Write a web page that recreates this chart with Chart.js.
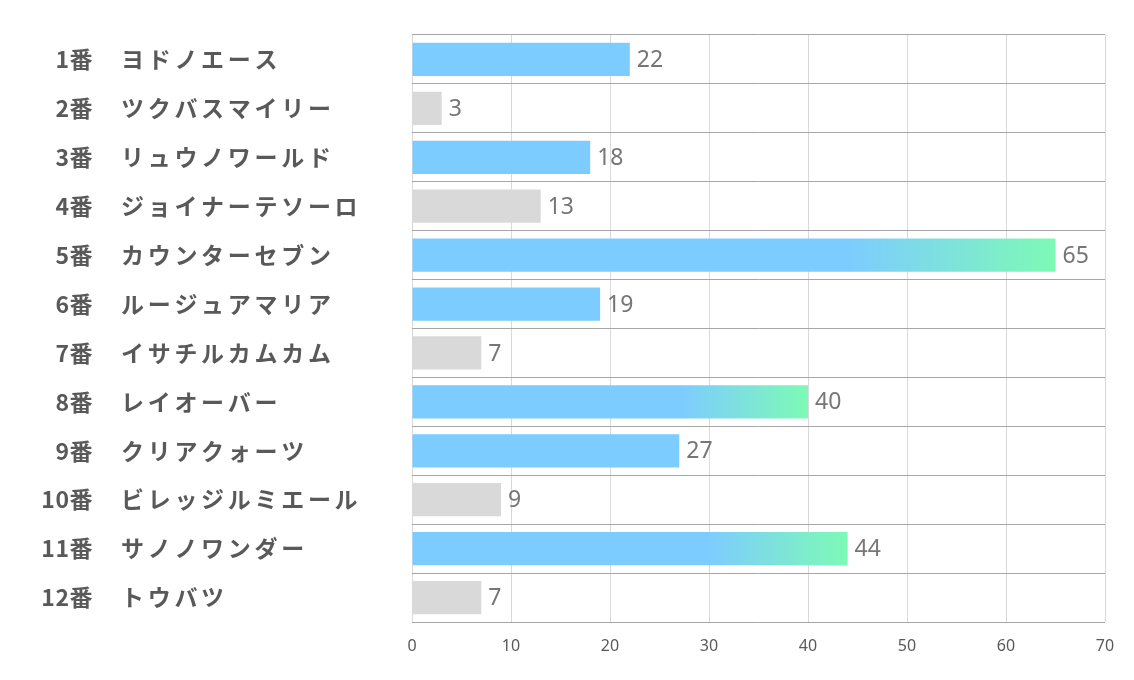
<!DOCTYPE html>
<html lang="ja">
<head>
<meta charset="utf-8">
<title>人気順</title>
<script src="https://cdn.jsdelivr.net/npm/chart.js@4"></script>
<style>
  html, body { margin: 0; padding: 0; background: #fff; }
  canvas { display: block; }
</style>
</head>
<body>
<canvas id="chart" width="1134" height="680"></canvas>
<script>
const numbers = ['1番', '2番', '3番', '4番', '5番', '6番', '7番', '8番', '9番', '10番', '11番', '12番'];
const horses = ['ヨドノエース', 'ツクバスマイリー', 'リュウノワールド', 'ジョイナーテソーロ', 'カウンターセブン', 'ルージュアマリア',
    'イサチルカムカム', 'レイオーバー', 'クリアクォーツ', 'ビレッジルミエール', 'サノノワンダー', 'トウバツ'];
const values = [22, 3, 18, 13, 65, 19, 7, 40, 27, 9, 44, 7];
const xTicks = [0, 10, 20, 30, 40, 50, 60, 70];

const BLUE = 'rgb(125, 204, 255)';
const GREEN = 'rgb(125, 250, 182)';
const GRAY = 'rgb(217, 217, 217)';

function barColor(ctx) {
    const v = ctx.raw;
    if (v < 15) return GRAY;
    if (v < 30) return BLUE;
    const x = ctx.chart.scales.x;
    if (!x || !ctx.chart.chartArea) return BLUE;
    const x0 = x.getPixelForValue(v * 0.68);
    const x1 = x.getPixelForValue(v);
    const g = ctx.chart.ctx.createLinearGradient(x0, 0, x1, 0);
    g.addColorStop(0, BLUE);
    g.addColorStop(1, GREEN);
    return g;
}

// 左側のラベル（番号は右揃え、馬名は左揃え）
const rowLabels = {
    id: 'rowLabels',
    afterDraw(chart) {
        const c = chart.ctx;
        const y = chart.scales.y;
        c.save();
        c.font = 'bold 23px "Noto Sans CJK JP", sans-serif';
        c.fillStyle = '#595959';
        c.textBaseline = 'middle';
        numbers.forEach((n, i) => {
            const py = y.getPixelForValue(i);
            c.letterSpacing = '0.5px';
            c.textAlign = 'right';
            c.fillText(n, 93, py);
            c.letterSpacing = '3.7px';
            c.textAlign = 'left';
            c.fillText(horses[i], 121, py);
        });
        c.restore();
    }
};

// 棒の右の数値
const valueLabels = {
    id: 'valueLabels',
    afterDatasetsDraw(chart) {
        const c = chart.ctx;
        const meta = chart.getDatasetMeta(0);
        c.save();
        c.font = '23px "Noto Sans", sans-serif';
        c.fillStyle = '#767676';
        c.textAlign = 'left';
        c.textBaseline = 'middle';
        meta.data.forEach((bar, i) => {
            c.fillText(String(values[i]), bar.x + 7, bar.y + 1);
        });
        c.restore();
    }
};

new Chart(document.getElementById('chart'), {
    type: 'bar',
    data: {
        labels: horses,
        datasets: [{
            data: values,
            backgroundColor: barColor,
            borderWidth: 0,
            barPercentage: 0.68,
            categoryPercentage: 1
        }]
    },
    options: {
        indexAxis: 'y',
        responsive: false,
        animation: false,
        layout: { padding: { top: 35, right: 29, bottom: 0, left: 0 } },
        scales: {
            x: {
                min: 0,
                max: 70,
                afterBuildTicks: (scale) => { scale.ticks = xTicks.map(v => ({ value: v })); },
                afterFit: (scale) => { scale.height = 58; },
                grid: { color: '#d9d9d9', drawTicks: false },
                border: { display: false },
                ticks: {
                    padding: 15,
                    color: '#595959',
                    font: { size: 16, family: '"Liberation Sans Narrow", "Noto Sans", sans-serif' }
                }
            },
            y: {
                afterFit: (scale) => { scale.width = 412; },
                grid: { color: '#a6a6a6', offset: true, drawTicks: false },
                border: { display: false },
                ticks: { display: false }
            }
        },
        plugins: {
            legend: { display: false },
            tooltip: { enabled: false }
        }
    },
    plugins: [rowLabels, valueLabels]
});
</script>
</body>
</html>
